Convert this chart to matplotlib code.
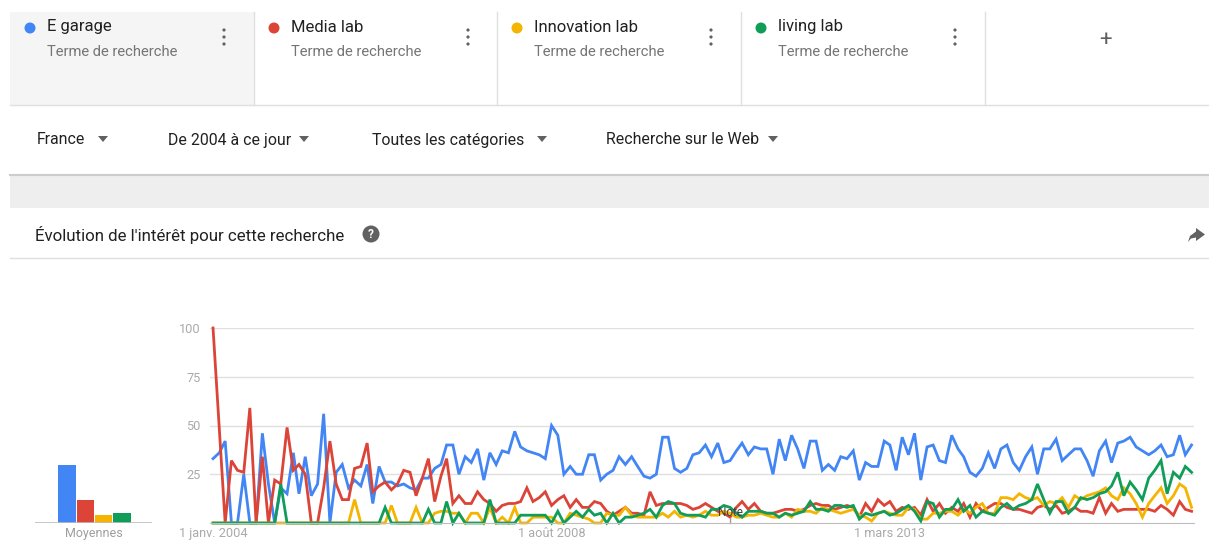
import numpy as np
import pandas as pd
import matplotlib
matplotlib.use('Agg')
import matplotlib.pyplot as plt
from matplotlib.patches import Rectangle, Circle, Polygon

plt.rcParams['font.family'] = ['Roboto', 'DejaVu Sans']

# --- data (Google Trends, France, monthly from jan. 2004, index 0-100) ---
terms = ['E garage', 'Media lab', 'Innovation lab', 'living lab']
colors = ['#4285f4', '#db4437', '#f4b400', '#0f9d58']
start_month = '2004-01-01'

e_garage = [33, 36, 42, 0, 0, 25, 0, 0, 46, 20, 0, 18, 15, 36, 15, 34, 14, 20, 56, 0,
            26, 30, 18, 22, 19, 30, 10, 29, 21, 21, 19, 20, 18, 17, 23, 23, 28, 30, 40, 40,
            25, 34, 31, 38, 22, 36, 30, 37, 36, 47, 39, 37, 36, 35, 33, 50, 45, 25, 29, 25,
            25, 35, 35, 22, 25, 27, 34, 30, 34, 29, 24, 23, 25, 44, 44, 28, 26, 28, 35, 36,
            40, 34, 41, 31, 32, 37, 41, 35, 39, 38, 38, 25, 43, 32, 45, 38, 28, 42, 42, 27,
            30, 27, 34, 33, 37, 22, 31, 29, 29, 42, 40, 27, 44, 35, 46, 22, 39, 40, 32, 31,
            45, 38, 34, 26, 24, 28, 36, 28, 38, 40, 31, 27, 34, 39, 25, 38, 38, 43, 32, 35,
            38, 38, 32, 24, 37, 42, 31, 41, 42, 44, 39, 37, 35, 37, 40, 34, 35, 45, 35, 40]

media_lab = [100, 48, 0, 32, 27, 26, 59, 0, 34, 0, 22, 20, 49, 27, 30, 25, 0, 0, 18, 42,
             20, 12, 12, 28, 29, 41, 16, 19, 21, 17, 20, 27, 26, 14, 23, 33, 11, 24, 33, 10,
             14, 10, 10, 16, 12, 10, 6, 9, 10, 10, 11, 18, 11, 13, 16, 9, 12, 14, 8, 12,
             8, 8, 11, 10, 6, 4, 6, 8, 5, 5, 4, 16, 9, 10, 10, 10, 10, 9, 7, 8,
             10, 8, 6, 5, 3, 8, 11, 7, 10, 6, 5, 5, 6, 7, 7, 6, 7, 9, 10, 9,
             9, 7, 8, 9, 8, 3, 10, 6, 12, 9, 11, 6, 8, 7, 8, 4, 12, 6, 10, 5,
             8, 6, 10, 3, 10, 6, 8, 10, 10, 8, 7, 7, 6, 5, 8, 9, 7, 9, 5, 6,
             8, 6, 6, 5, 13, 5, 10, 6, 7, 7, 7, 7, 7, 6, 9, 7, 4, 11, 7, 6]

innovation_lab = [0, 0, 0, 0, 0, 0, 0, 0, 0, 0, 0, 0, 0, 0, 0, 0, 0, 0, 0, 0,
                  0, 0, 0, 12, 0, 0, 0, 0, 0, 9, 0, 0, 0, 8, 0, 0, 5, 6, 6, 5,
                  5, 0, 5, 5, 0, 8, 0, 3, 0, 8, 0, 0, 3, 3, 3, 3, 0, 0, 5, 4,
                  3, 2, 0, 0, 5, 4, 4, 8, 4, 3, 3, 3, 3, 5, 3, 6, 3, 4, 3, 4,
                  6, 4, 4, 6, 5, 3, 3, 4, 4, 5, 4, 3, 3, 5, 3, 7, 6, 6, 5, 8,
                  7, 6, 5, 6, 7, 4, 3, 1, 5, 6, 5, 4, 4, 8, 7, 2, 2, 5, 5, 6,
                  6, 4, 7, 5, 8, 10, 5, 5, 13, 13, 12, 15, 13, 12, 13, 9, 11, 10, 13, 8,
                  14, 12, 14, 15, 16, 18, 14, 12, 18, 15, 10, 3, 10, 14, 18, 10, 14, 20, 18, 8]

living_lab = [0, 0, 0, 0, 0, 0, 0, 0, 0, 0, 0, 20, 0, 0, 0, 0, 0, 0, 0, 0,
              0, 0, 0, 0, 0, 0, 0, 0, 8, 0, 0, 0, 0, 0, 0, 7, 0, 0, 11, 0,
              5, 0, 0, 0, 0, 12, 0, 0, 0, 0, 4, 4, 4, 4, 4, 0, 6, 0, 3, 6,
              3, 7, 4, 5, 0, 5, 0, 3, 3, 4, 5, 7, 3, 9, 11, 10, 5, 4, 4, 4,
              3, 7, 7, 9, 8, 5, 3, 6, 6, 6, 5, 5, 3, 5, 4, 5, 6, 11, 7, 7,
              6, 9, 9, 8, 9, 2, 5, 4, 5, 6, 4, 5, 7, 9, 6, 1, 11, 10, 3, 7,
              7, 12, 6, 9, 3, 6, 5, 4, 8, 10, 7, 9, 10, 12, 20, 12, 5, 11, 11, 5,
              8, 13, 12, 13, 15, 16, 19, 26, 14, 21, 17, 12, 23, 27, 32, 15, 26, 23, 29, 26]

averages = [30, 12, 4, 5]

y_ticks = [25, 50, 75, 100]
x_tick_dates = ['2004-01-01', '2008-08-01', '2013-03-01']
x_tick_labels = ['1 janv. 2004', '1 août 2008', '1 mars 2013']
note_date = '2011-01-01'

filters = ['France', 'De 2004 à ce jour', 'Toutes les catégories', 'Recherche sur le Web']

series = [e_garage, media_lab, innovation_lab, living_lab]
months = pd.date_range(start_month, periods=len(e_garage), freq='MS')

W, H = 1209, 540
fig = plt.figure(figsize=(W / 100, H / 100), dpi=100)
fig.patch.set_facecolor('white')

def frac(x0, y_top, w, h):
    # pixel box -> figure fraction
    return [x0 / W, 1 - (y_top + h) / H, w / W, h / H]

# background "page" drawn in pixel coords
bg = fig.add_axes([0, 0, 1, 1])
bg.set_xlim(0, W)
bg.set_ylim(H, 0)
bg.axis('off')

line_grey = '#e0e0e0'
dark = '#212121'
mid = '#757575'
icon = '#616161'

# search term tabs
bg.add_patch(Rectangle((10, 12), 244, 93, color='#f5f5f5', lw=0))
tab_x = [10, 254, 497, 741]
for k, x in enumerate(tab_x):
    if k > 0:
        bg.plot([x, x], [12, 105], color=line_grey, lw=1)
    bg.add_patch(Circle((x + 20, 28), 5.5, color=colors[k], lw=0))
    bg.text(x + 37, 27, terms[k], fontsize=12, color=dark, va='center')
    bg.text(x + 37, 52, 'Terme de recherche', fontsize=10.6, color=mid, va='center')
    for dy in (30, 37, 44):
        bg.add_patch(Circle((x + 214, dy), 1.6, color=icon, lw=0))
bg.plot([985, 985], [12, 105], color=line_grey, lw=1)
bg.text(1105, 40, '+', fontsize=16, color=icon, ha='center', va='center')
bg.plot([10, W], [105, 105], color=line_grey, lw=1)

# filter row
filter_x = [37, 168, 372, 606]
arrow_x = [103, 304, 542, 773]
for fx, ax_, label in zip(filter_x, arrow_x, filters):
    bg.text(fx, 140, label, fontsize=11.4, color=dark, va='center')
    bg.add_patch(Polygon([[ax_ - 5, 136], [ax_ + 5, 136], [ax_, 142]], color=icon, lw=0))

# grey band
bg.add_patch(Rectangle((10, 175), W - 10, 33, color='#eeeeee', lw=0))
bg.plot([10, W], [175, 175], color='#cccccc', lw=1.5)

# panel header
bg.text(35, 235, "Évolution de l'intérêt pour cette recherche", fontsize=12.2, color=dark, va='center')
bg.add_patch(Circle((371, 234), 8.5, color=icon, lw=0))
bg.text(371, 234.5, '?', fontsize=8.5, color='white', ha='center', va='center', weight='bold')
bg.add_patch(Polygon([[1188, 242], [1190, 236], [1196, 231.5], [1196, 228], [1205, 234.5],
                      [1196, 241], [1196, 237.5], [1191, 238.5]], color=icon, lw=0))
bg.plot([10, W], [258, 258], color=line_grey, lw=1)

# --- main line chart ---
ax = fig.add_axes(frac(210, 328, 984, 195))
for vals, c in zip(series, colors):
    ax.plot(months, vals, color=c, lw=2.0, clip_on=False, solid_joinstyle='miter')

ax.set_ylim(0, 100)
ax.set_xlim(months[0] - pd.Timedelta(days=15), months[-1] + pd.Timedelta(days=12))
ax.set_yticks(y_ticks)
ax.set_yticklabels([str(v) for v in y_ticks])
ax.set_xticks(pd.to_datetime(x_tick_dates))
ax.set_xticklabels(x_tick_labels)
ax.tick_params(axis='both', length=0, labelsize=9.2, labelcolor='#aaaaaa')
ax.tick_params(axis='y', pad=7)
ax.tick_params(axis='x', pad=3)
ax.grid(axis='y', color=line_grey, lw=1)
ax.set_axisbelow(True)
for s in ['top', 'right', 'left']:
    ax.spines[s].set_visible(False)
ax.spines['bottom'].set_color('#bdbdbd')
ax.set_facecolor('none')

nd = pd.Timestamp(note_date)
ax.plot([nd, nd], [0, 2.5], color='#9e9e9e', lw=1, clip_on=False)
ax.text(nd, 5.5, 'Note', fontsize=8.5, color='#424242', ha='center', va='center')

# --- averages ---
axb = fig.add_axes(frac(35, 328, 117, 195))
axb.bar(np.arange(len(averages)), averages, width=0.96, color=colors)
axb.set_xlim(-1.75, 117 / 18.3 - 1.75)
axb.set_ylim(0, 100)
axb.axis('off')
axb.axhline(0, color='#bdbdbd', lw=1.2)
bg.text(94, 533, 'Moyennes', fontsize=9, color='#9e9e9e', ha='center', va='center')

fig.savefig('out.png', dpi=100, facecolor='white')
